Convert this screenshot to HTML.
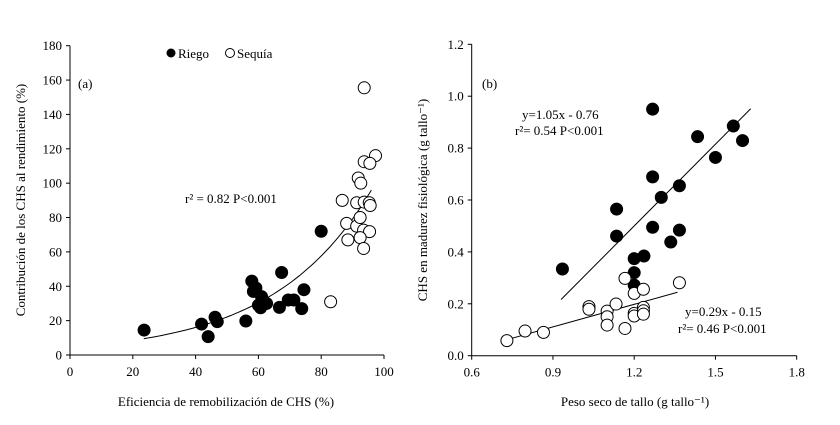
<!DOCTYPE html>
<html><head><meta charset="utf-8"><style>
body{margin:0;background:#fff}
svg{display:block}
text{font-family:"Liberation Serif",serif;font-size:13px;fill:#000}
</style></head><body>
<svg id="c" width="840" height="425" viewBox="0 0 840 425" xmlns="http://www.w3.org/2000/svg"></svg>
<script>
// Panel (a) data
const aRiegoX=[23.6,41.9,44,46.2,46.9,56,57.9,58.4,59.2,60,61,60.7,62.6,66.7,67.4,69.5,71.3,73.8,74.5,80];
const aRiegoY=[14.5,18,10.7,22,19.4,19.8,43,37,39,29,34,27.5,30,27.7,48,32,32,27,38,72];
const aSequiaX=[83,93.7,97.3,93.7,95.5,91.8,92.6,86.7,91.3,93.7,95.3,95.6,88.1,91.3,92.4,93.5,95.4,88.5,92.4,93.5];
const aSequiaY=[31,155.5,116,112.5,111.5,103,100,90,88.6,89,88.6,87,76.6,75,80,72.7,71.8,67,68.3,62];
const aXTicks=[0,20,40,60,80,100];
const aYTicks=[0,20,40,60,80,100,120,140,160,180];
const aFit=[4.49,0.0319]; // y = a*exp(b*x)
// Panel (b) data
const bRiegoX=[0.935,1.135,1.135,1.2,1.236,1.2,1.2,1.268,1.268,1.268,1.3,1.335,1.367,1.367,1.434,1.5,1.566,1.6];
const bRiegoY=[0.334,0.565,0.461,0.374,0.384,0.32,0.272,0.95,0.689,0.495,0.61,0.438,0.655,0.484,0.844,0.764,0.885,0.829];
const bSequiaX=[0.73,0.797,0.865,1.033,1.033,1.1,1.1,1.1,1.133,1.166,1.166,1.2,1.2,1.2,1.234,1.234,1.234,1.234,1.367];
const bSequiaY=[0.058,0.095,0.09,0.189,0.179,0.172,0.15,0.118,0.199,0.298,0.105,0.24,0.163,0.153,0.256,0.186,0.173,0.16,0.281];
const bXTicks=[0.6,0.9,1.2,1.5,1.8];
const bYTicks=[0,0.2,0.4,0.6,0.8,1.0,1.2];
const bRiegoFit=[1.05,-0.76,0.93,1.63];
const bSequiaFit=[0.29,-0.15,0.73,1.36];

const NS="http://www.w3.org/2000/svg";
const svg=document.getElementById('c');
function el(tag,attrs,parent){const e=document.createElementNS(NS,tag);for(const k in attrs)e.setAttribute(k,attrs[k]);(parent||svg).appendChild(e);return e;}
function txt(s,x,y,anchor,name,parent){const t=el('text',{x:x,y:y,'text-anchor':anchor||'start'},parent);t.textContent=s;


return t;}

const axa={x0:70,x1:384,y0:355,y1:45.7,xmin:0,xmax:100,ymin:0,ymax:180};
const axb={x0:471.7,x1:796.7,y0:355.7,y1:44.3,xmin:0.6,xmax:1.8,ymin:0,ymax:1.2};
function sx(a,v){return a.x0+(v-a.xmin)/(a.xmax-a.xmin)*(a.x1-a.x0);}
function sy(a,v){return a.y0+(v-a.ymin)/(a.ymax-a.ymin)*(a.y1-a.y0);}

function axes(a,xt,yt,fmt,prefix){
  const g=el('g',{});
  
  
  el('line',{x1:a.x0,y1:a.y0,x2:a.x1,y2:a.y0,stroke:'#000','stroke-width':1},g);
  el('line',{x1:a.x0,y1:a.y0,x2:a.x0,y2:a.y1,stroke:'#000','stroke-width':1},g);
  xt.forEach(v=>{const x=sx(a,v);el('line',{x1:x,y1:a.y0,x2:x,y2:a.y0+4,stroke:'#000'},g);
    txt(fmt(v,'x'),x,a.y0+21,'middle',prefix+'-x-tick-label',g);});
  yt.forEach(v=>{const y=sy(a,v);el('line',{x1:a.x0-4,y1:y,x2:a.x0,y2:y,stroke:'#000'},g);
    txt(fmt(v,'y'),a.x0-8,y+4.5,'end',prefix+'-y-tick-label',g);});
}
axes(axa,aXTicks,aYTicks,v=>String(v),'a');
axes(axb,bXTicks,bYTicks,v=>v.toFixed(1),'b');

function pts(a,X,Y,filled,name){
  const g=el('g',{});
  
  
  X.forEach((x,i)=>{const c=el('circle',{cx:sx(a,x),cy:sy(a,Y[i]),r:6,fill:filled?'#000':'#fff',stroke:'#000','stroke-width':1},g);
    
    });
}
let d='';for(let i=0;i<=60;i++){const x=23.5+(96-23.5)*i/60;const y=aFit[0]*Math.exp(aFit[1]*x);d+=(i?'L':'M')+sx(axa,x).toFixed(1)+','+sy(axa,y).toFixed(1);}
const fa=el('path',{d:d,fill:'none',stroke:'#000','stroke-width':1});


pts(axa,aRiegoX,aRiegoY,true,'a-riego-series');
pts(axa,aSequiaX,aSequiaY,false,'a-sequia-series');

function fitLine(f,name){const l=el('line',{x1:sx(axb,f[2]),y1:sy(axb,f[0]*f[2]+f[1]),x2:sx(axb,f[3]),y2:sy(axb,f[0]*f[3]+f[1]),stroke:'#000','stroke-width':1});
  
  }
fitLine(bRiegoFit,'b-riego-fit-line');
fitLine(bSequiaFit,'b-sequia-fit-line');
pts(axb,bRiegoX,bRiegoY,true,'b-riego-series');
pts(axb,bSequiaX,bSequiaY,false,'b-sequia-series');

txt('(a)',78,88,'start','a-panel-label');
txt('(b)',482,88,'start','b-panel-label');
txt('r² = 0.82 P<0.001',185,203,'start','a-r2-annotation');
txt('y=1.05x - 0.76',522,119,'start','b-riego-equation');
txt('r²= 0.54 P<0.001',515,135,'start','b-riego-r2');
txt('y=0.29x - 0.15',685,316,'start','b-sequia-equation');
txt('r²= 0.46 P<0.001',678,333,'start','b-sequia-r2');
txt('Eficiencia de remobilización de CHS (%)',226,406,'middle','a-x-axis-title');
txt('Peso seco de tallo (g tallo⁻¹)',635,406,'middle','b-x-axis-title');
const ya=txt('Contribución de los CHS al rendimiento  (%)',0,0,'middle','a-y-axis-title');ya.setAttribute('transform','translate(25,200) rotate(-90)');
const yb=txt('CHS en madurez fisiológica (g tallo⁻¹)',0,0,'middle','b-y-axis-title');yb.setAttribute('transform','translate(427,200) rotate(-90)');
const lg=el('g',{});


el('circle',{cx:171,cy:53,r:4.5,fill:'#000'},lg);
const l1=txt('Riego',178,58,'start','legend-riego',lg);l1.setAttribute('font-size','14');
el('circle',{cx:230,cy:53,r:4.5,fill:'#fff',stroke:'#000'},lg);
const l2=txt('Sequía',237,58,'start','legend-sequia',lg);l2.setAttribute('font-size','14');
</script>
</body></html>
